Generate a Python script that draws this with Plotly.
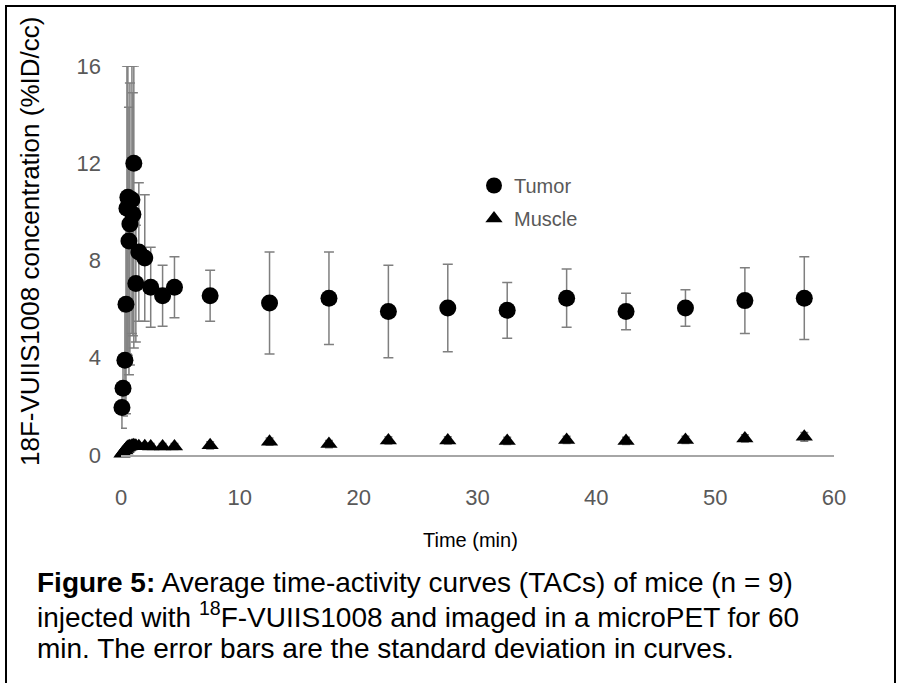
import plotly.graph_objects as go
import numpy as np

# ---- data ----
time_min = [0.08, 0.17, 0.33, 0.42, 0.5, 0.58, 0.67, 0.75, 0.92, 1.0, 1.08, 1.25, 1.5, 2.0, 2.5, 3.5, 4.5,
            7.5, 12.5, 17.5, 22.5, 27.5, 32.5, 37.5, 42.5, 47.5, 52.5, 57.5]
tumor = [1.95, 2.75, 3.9, 6.2, 10.15, 10.6, 8.8, 9.5, 10.5, 9.9, 12.0, 7.05, 8.35, 8.1, 6.9, 6.55, 6.9,
         6.55, 6.25, 6.45, 5.9, 6.05, 5.95, 6.45, 5.9, 6.05, 6.35, 6.45]
tumor_sd = [0.85, 1.15, 2.0, 4.5, 6.0, 6.5, 5.5, 5.8, 5.5, 5.0, 7.6, 2.4, 2.85, 2.6, 1.65, 1.25, 1.25,
            1.05, 2.1, 1.9, 1.9, 1.8, 1.15, 1.2, 0.75, 0.75, 1.35, 1.7]
muscle = [0.05, 0.1, 0.18, 0.25, 0.3, 0.33, 0.35, 0.36, 0.38, 0.38, 0.4, 0.38, 0.36, 0.36, 0.35, 0.35, 0.35,
          0.4, 0.55, 0.45, 0.6, 0.6, 0.58, 0.62, 0.58, 0.62, 0.68, 0.75]
muscle_sd = [0.03, 0.05, 0.08, 0.1, 0.1, 0.12, 0.12, 0.12, 0.12, 0.12, 0.12, 0.12, 0.12, 0.12, 0.12, 0.12, 0.12,
             0.15, 0.15, 0.15, 0.15, 0.15, 0.15, 0.15, 0.15, 0.15, 0.15, 0.18]
x_ticks = [0, 10, 20, 30, 40, 50, 60]
y_ticks = [0, 4, 8, 12, 16]
caption_lines = [
    "<b>Figure 5:</b> Average time-activity curves (TACs) of mice (n = 9)",
    "injected with <sup>18</sup>F-VUIIS1008 and imaged in a microPET for 60",
    "min. The error bars are the standard deviation in curves.",
]

# ---- layout geometry ----
W, H = 901, 683
L, R, T, B = 121, 834, 66, 455
YMAX = 16


def px_x(p):
    return (p - L) / (R - L)


def px_y(p):
    return 1 - (p - T) / (B - T)


t_arr = np.array(tumor)
t_up = np.minimum(np.array(tumor_sd), YMAX - t_arr)
t_dn = np.minimum(np.array(tumor_sd), t_arr)
m_arr = np.array(muscle)
m_sd = np.array(muscle_sd)

err_col = "#7f7f7f"
narrow = "Liberation Sans Narrow, Arial Narrow, Liberation Sans, Arial, sans-serif"
regular = "Liberation Sans, Arial, sans-serif"

fig = go.Figure()
fig.add_trace(go.Scatter(
    x=time_min, y=tumor, mode="markers", name="Tumor", legendgroup="t",
    marker=dict(symbol="circle", size=17, color="black"),
    error_y=dict(type="data", symmetric=False, array=t_up, arrayminus=t_dn,
                 color=err_col, thickness=1.5, width=5),
    cliponaxis=False,
))
fig.add_trace(go.Scatter(
    x=time_min, y=muscle, mode="markers", name="Muscle", legendgroup="m",
    marker=dict(symbol="triangle-up", size=15, color="black"),
    error_y=dict(type="data", symmetric=False, array=m_sd, arrayminus=np.minimum(m_sd, m_arr),
                 color=err_col, thickness=1.5, width=4),
    cliponaxis=False,
))

fig.update_layout(
    width=W, height=H,
    margin=dict(l=L, r=W - R, t=T, b=H - B),
    paper_bgcolor="white", plot_bgcolor="white",
    showlegend=True,
    legend=dict(x=px_x(474), y=px_y(166), xanchor="left", yanchor="top",
                font=dict(family=narrow, size=20, color="#595959"),
                bgcolor="rgba(0,0,0,0)", itemwidth=30, tracegroupgap=4),
    xaxis=dict(range=[0, 60], tickvals=x_ticks, showgrid=False, zeroline=False,
               showline=True, linecolor="#a6a6a6", linewidth=2, ticks="",
               tickfont=dict(family=narrow, size=22, color="#595959"), ticklabelstandoff=22),
    yaxis=dict(range=[0, YMAX], tickvals=y_ticks, showgrid=False, zeroline=False,
               showline=False, ticks="",
               tickfont=dict(family=narrow, size=22, color="#595959"), ticklabelstandoff=19),
)

# axis titles
fig.add_annotation(x=px_x(30), y=px_y(242), xref="paper", yref="paper",
                   text="18F-VUIIS1008 concentration (%ID/cc)", textangle=-90, showarrow=False,
                   font=dict(family=regular, size=26, color="black"), xanchor="center", yanchor="middle")
fig.add_annotation(x=px_x(470), y=px_y(540), xref="paper", yref="paper",
                   text="Time (min)", showarrow=False,
                   font=dict(family=narrow, size=20, color="black"), xanchor="center", yanchor="middle")

# caption, one annotation per line
for i, line in enumerate(caption_lines):
    fig.add_annotation(x=px_x(35), y=px_y(582 + 33 * i), xref="paper", yref="paper",
                       xanchor="left", yanchor="middle", align="left", showarrow=False,
                       text=line, font=dict(family=regular, size=28, color="black"))

# frame lines
for x0, y0, x1, y1 in [(5, 6, 896, 6), (6, 5, 6, 683), (895, 5, 895, 683)]:
    fig.add_shape(type="line", xref="paper", yref="paper",
                  x0=px_x(x0), y0=px_y(y0), x1=px_x(x1), y1=px_y(y1),
                  line=dict(color="black", width=2))

fig.write_html("out.html", config={"displayModeBar": False},
               post_script="document.body.style.margin='0';document.body.style.overflow='hidden';")
